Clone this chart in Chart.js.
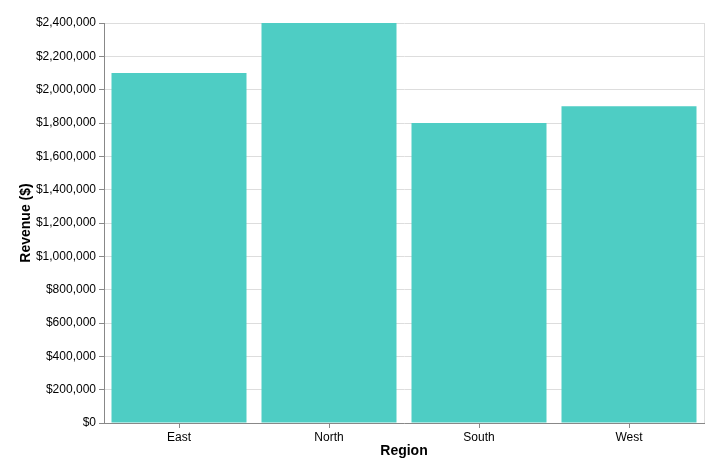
<!DOCTYPE html>
<html>
<head>
<meta charset="utf-8">
<script src="https://cdn.jsdelivr.net/npm/chart.js@4"></script>
<style>
  html, body { margin: 0; padding: 0; background: #fff; }
  #wrap { width: 724px; height: 476px; }
</style>
</head>
<body>
<div id="wrap"><canvas id="chart"></canvas></div>
<script>
const regions = ['East', 'North', 'South', 'West'];
const revenue = [2100000, 2400000, 1800000, 1900000];

const fontFamily = '"Liberation Sans", Arial, Helvetica, sans-serif';
const money = (v) => '$' + Number(v).toLocaleString('en-US');

// thin frame on the right edge of the plot, like the view stroke
const viewFrame = {
    id: 'viewFrame',
    beforeDatasetsDraw(chart) {
        const { ctx, chartArea: a } = chart;
        ctx.save();
        ctx.strokeStyle = '#ddd';
        ctx.lineWidth = 1;
        ctx.beginPath();
        ctx.moveTo(Math.round(a.right) + 0.5, a.top);
        ctx.lineTo(Math.round(a.right) + 0.5, a.bottom);
        ctx.stroke();
        ctx.restore();
    },
};

new Chart(document.getElementById('chart').getContext('2d'), {
    type: 'bar',
    data: {
        labels: regions,
        datasets: [{
            data: revenue,
            backgroundColor: '#4ECDC4',
            barPercentage: 0.9,
            categoryPercentage: 1.0,
        }],
    },
    options: {
        responsive: true,
        maintainAspectRatio: false,
        animation: false,
        layout: { padding: { top: 23, right: 20, left: 0, bottom: 16 } },
        plugins: {
            legend: { display: false },
            tooltip: { enabled: false },
        },
        scales: {
            x: {
                grid: { display: true, offset: false, color: 'transparent', tickColor: '#888', tickLength: 5 },
                border: { color: '#888' },
                ticks: { color: '#000', font: { family: fontFamily, size: 12 }, padding: 2, maxRotation: 0 },
                title: { display: true, text: 'Region', color: '#000', font: { family: fontFamily, size: 14, weight: 'bold' }, padding: { top: 2, bottom: 0 } },
                afterFit: (s) => { s.height = 37; },
            },
            y: {
                min: 0,
                max: 2400000,
                ticks: { stepSize: 200000, callback: money, color: '#000', font: { family: fontFamily, size: 12 }, padding: 3 },
                grid: { color: '#ddd', tickColor: '#888', tickLength: 5 },
                border: { color: '#888' },
                title: { display: true, text: 'Revenue ($)', color: '#000', font: { family: fontFamily, size: 14, weight: 'bold' }, padding: { top: 18, bottom: 8 } },
                afterFit: (s) => { s.width = 104; },
            },
        },
    },
    plugins: [viewFrame],
});
</script>
</body>
</html>
